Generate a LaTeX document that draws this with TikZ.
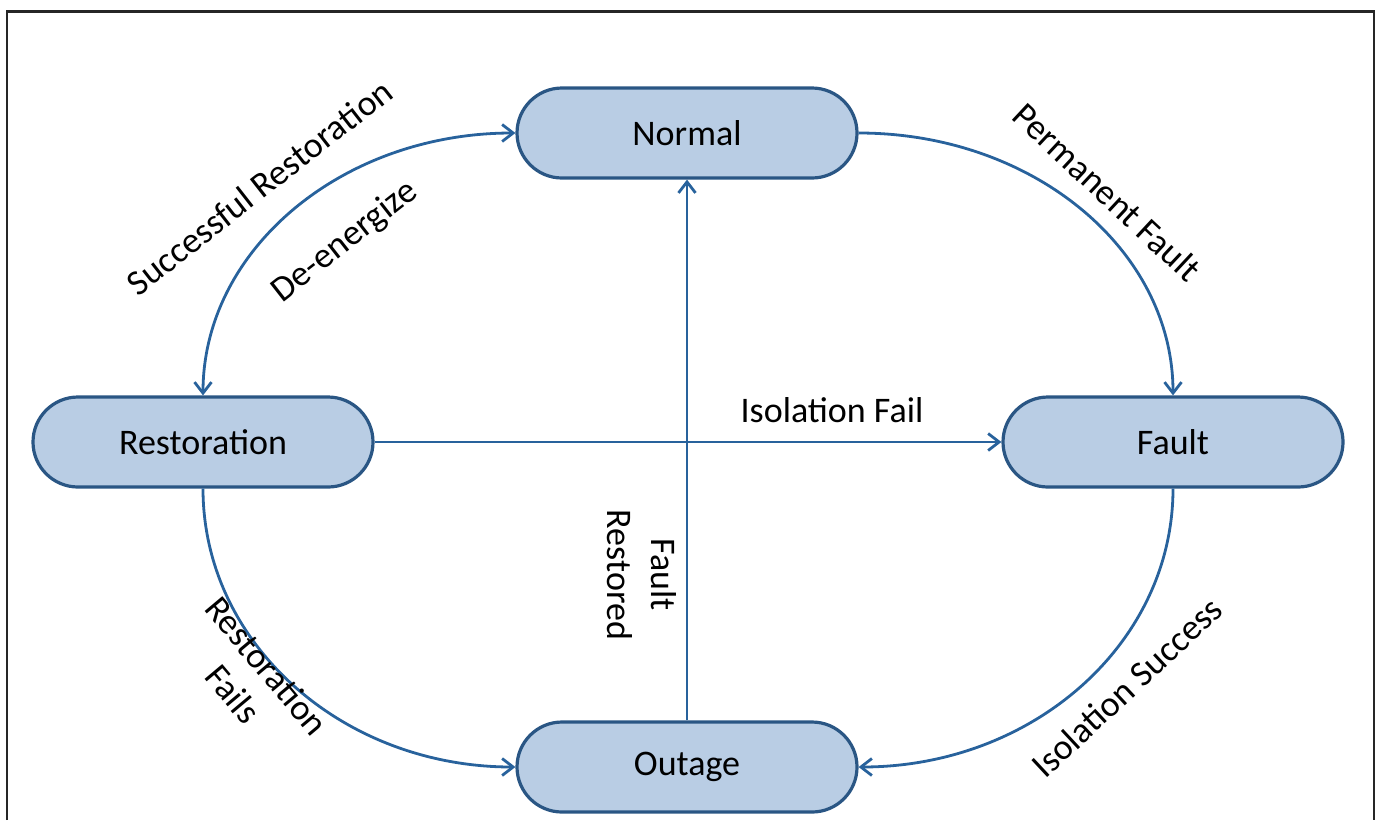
\documentclass[tikz,border=0pt]{standalone}
\usepackage{fontspec}
\setmainfont{Carlito}
\usetikzlibrary{arrows.meta}
\definecolor{modefill}{RGB}{185,205,228}
\definecolor{modeline}{RGB}{42,86,132}
\definecolor{arrline}{RGB}{40,98,156}

\begin{document}
\begin{tikzpicture}[
  x=0.5pt, y=-0.5pt,
  mode/.style={draw=modeline, fill=modefill, line width=1.6pt, rounded corners=22.5pt,
               minimum width=170pt, minimum height=45pt,
               font=\fontsize{18}{21.6}\selectfont},
  lbl/.style={align=center, inner sep=0pt, font=\fontsize{18}{22}\selectfont},
  arr/.style={-{Straight Barb[length=5.5pt,width=8.5pt]}, arrline, line width=1.4pt},
  biarr/.style={arr, {Straight Barb[length=5.5pt,width=8.5pt]}-{Straight Barb[length=5.5pt,width=8.5pt]}}
]
\useasboundingbox (0,0) rectangle (1379,820);
% open frame (bottom edge runs off the page)
\draw[black!85, line width=1.4pt] (7,820) |- (1374,11.5) -- (1374,820);

% the four states
\node[mode] (norm)  at (687,133) {Normal};
\node[mode] (rest)  at (203,442) {Restoration};
\node[mode] (fault) at (1173,442) {Fault};
\node[mode] (outg)  at (687,767) {Outage};

% transitions
\draw[biarr] (norm.west) .. controls +(-173,0) and +(0,-146) .. (rest.north);
\draw[arr] (norm.east) .. controls +(174,0) and +(0,-146) .. (fault.north);
\draw[arr] (rest.east) -- (fault.west);
\draw[arr] (outg.north) -- (norm.south);
\draw[arr] (rest.south) .. controls +(0,155) and +(-173,0) .. (outg.west);
\draw[arr] (fault.south) .. controls +(0,155) and +(174,0) .. (outg.east);

% transition labels
\node[lbl, rotate=38]  (lsucc) at (259,187)  {Successful Restoration};
\node[lbl, rotate=38]  (ldeen) at (345,242)  {De-energize};
\node[lbl, rotate=-43] (lperm) at (1107,192) {Permanent Fault};
\node[lbl]             (lisof) at (832,410)  {Isolation Fail};
\node[lbl, rotate=-90] (lrest) at (642,575)  {Fault\\Restored};
\node[lbl, rotate=-50] (lfail) at (250,680)  {Restoration\\Fails};
\node[lbl, rotate=43]  (lisos) at (1127,687) {Isolation Success};
\end{tikzpicture}
\end{document}
